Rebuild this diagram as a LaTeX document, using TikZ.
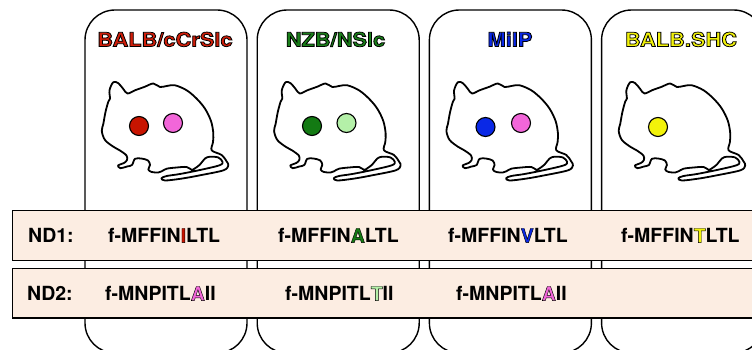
\documentclass[tikz,border=0pt]{standalone}
\usepackage{fontspec}
\setmainfont{TeX Gyre Heros}
\definecolor{bandfill}{HTML}{FCEDE2}
\definecolor{strred}{HTML}{D01E0A}
\definecolor{strgreen}{HTML}{1A7F1A}
\definecolor{strblue}{HTML}{0A28E6}
\definecolor{stryellow}{HTML}{F2F20A}
\definecolor{eyered}{HTML}{C81400}
\definecolor{eyepink}{HTML}{F266D9}
\definecolor{eyedkgreen}{HTML}{137A13}
\definecolor{eyeltgreen}{HTML}{B4F0A8}

% coloured text with a black rim: fill-and-stroke text rendering
\newcommand\ringtext[3][0.45]{{\color{#2}%
  \special{pdf:literal direct 0 0 0 RG #1 w 2 Tr}#3%
  \special{pdf:literal direct 0 Tr}}}

\begin{document}
\begin{tikzpicture}[x=1pt,y=-1pt,
  card/.style={draw=black,line width=1.4pt,rounded corners=30pt},
  band/.style={draw=black,line width=1.5pt,fill=bandfill},
  mouse/.style={draw=black,line width=1.8pt,line join=round,fill=white},
  eye/.style={draw=black,line width=1.1pt},
  strain/.style={font=\fontsize{19.5}{22}\selectfont\bfseries,xscale=1.12,inner sep=0pt,anchor=base},
  seq/.style={font=\fontsize{19.5}{22}\selectfont\bfseries,inner sep=0pt,anchor=base west}]
\useasboundingbox (0,0) rectangle (752,350);
\clip (0,0) rectangle (752,350);

% one card per strain, each with a mouse outline
\foreach \k in {0,...,3} {
  \draw[card] (85+172.2*\k,10) rectangle ++(162,343);
  \begin{scope}[xshift=172.3*\k]
    \draw[mouse] plot[smooth cycle,tension=0.55] coordinates {
      (110,98.7) (109.5,90.3) (113.3,82.2) (118.3,83.2) (123.3,89) (127.5,93.5)
      (135,90.3) (145,86.7) (153.3,83.5) (160,87) (166.7,86) (175,85.3)
      (186.7,90.3) (196.7,98.7) (205,108.7) (211,121) (213.3,133)
      (213,142) (211.7,150.3) (221.7,155) (226.7,161.5) (228.3,165.5)
      (223.5,170.3) (200,175.3) (181.7,178.6) (165,180.5) (161.5,178.2)
      (166.7,176) (180,174) (200,170) (219.5,165.3) (222.5,161.8)
      (218.3,157.5) (210,156.7) (205,158.5) (200,164.5) (195,168.3)
      (191.7,169.8) (186.7,167) (176.7,167.5) (166.7,168.7) (161.7,171.3)
      (158.3,172.5) (151.7,172) (148.3,169.5) (150,165) (148,160.5)
      (141.7,158.6) (135,158.8) (132,165) (127,166.5) (120.5,168.2)
      (118,165.5) (124,163) (127,160) (126.5,155.5) (120,150.5)
      (113.3,146.7) (105,140) (101.8,131) (103.3,124) (105.5,112)
      (108.3,101.7)};
  \end{scope}
}

% eye colours
\draw[eye,fill=eyered]     (139,126) circle (9.5);
\draw[eye,fill=eyepink]    (173,123) circle (9.5);
\draw[eye,fill=eyedkgreen] (312,126) circle (9.5);
\draw[eye,fill=eyeltgreen] (346.5,123) circle (9.5);
\draw[eye,fill=strblue]    (485.5,127) circle (9.5);
\draw[eye,fill=eyepink]    (521,123) circle (9.5);
\draw[eye,fill=stryellow]  (658,127) circle (9.5);

% strain names
\node[strain] (t1) at (165,46.5)   {\ringtext[0.75]{strred}{BALB/cCrSlc}};
\node[strain] (t2) at (335.5,46.5) {\ringtext[0.75]{strgreen}{NZB/NSlc}};
\node[strain] (t3) at (510,46.5)   {\ringtext[0.75]{strblue}{MilP}};
\node[strain] (t4) at (681,46.5)   {\ringtext[0.75]{stryellow}{BALB.SHC}};

% sequence bands
\draw[band] (12.7,210.7) rectangle (760,260.7);
\draw[band] (12.7,268.3) rectangle (760,318);

\node[seq] (nd1) at (28,242.7) {ND1:};
\node[seq] (nd2) at (27,300.7) {ND2:};

\node[seq] (s11) at (108,242.7) {f-MFFIN\ringtext{eyered}{I}LTL};
\node[seq] (s12) at (278,242.7) {f-MFFIN\ringtext{eyedkgreen}{A}LTL};
\node[seq] (s13) at (448,242.7) {f-MFFIN\ringtext{strblue}{V}LTL};
\node[seq] (s14) at (621,242.7) {f-MFFIN\ringtext{stryellow}{T}LTL};

\node[seq] (s21) at (105,300.7) {f-MNPITL\ringtext{eyepink}{A}II};
\node[seq] (s22) at (285,300.7) {f-MNPITL\ringtext{eyeltgreen}{T}II};
\node[seq] (s23) at (456,300.7) {f-MNPITL\ringtext{eyepink}{A}II};
\end{tikzpicture}
\end{document}
